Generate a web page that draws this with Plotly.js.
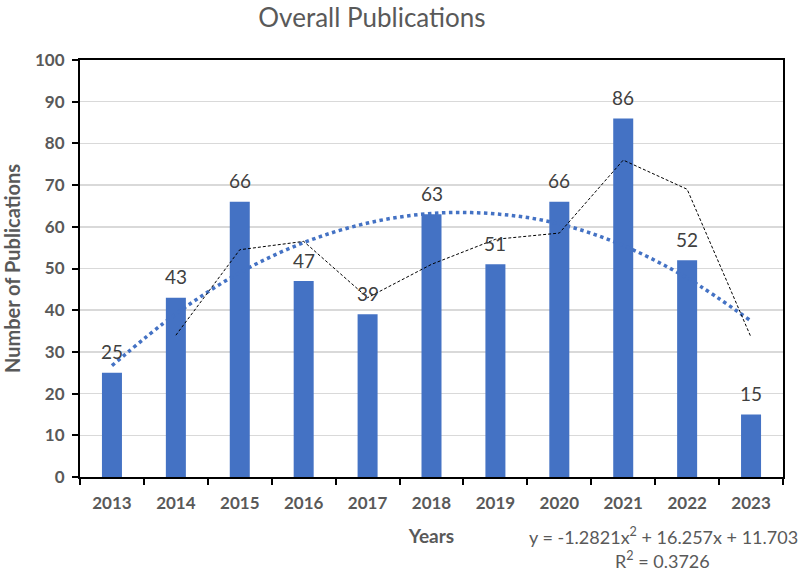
<!DOCTYPE html>
<html>
<head>
<meta charset="utf-8">
<script src="https://cdn.plot.ly/plotly-3.0.1.min.js"></script>
<style>html,body{margin:0;padding:0;background:#fff;}#chart{width:800px;height:571px;}</style>
</head>
<body>
<div id="chart"></div>
<script>
const years = ['2013','2014','2015','2016','2017','2018','2019','2020','2021','2022','2023'];
const publications = [25, 43, 66, 47, 39, 63, 51, 66, 86, 52, 15];
// 2-period moving average line, starts at 2014
const maYears = ['2014','2015','2016','2017','2018','2019','2020','2021','2022','2023'];
const maValues = [34, 54.5, 56.5, 43, 51, 57, 58.5, 76, 69, 33.5];
// polynomial trendline values
const trendValues = [26.7, 39.1, 49.0, 56.2, 60.9, 63.2, 63.1, 60.7, 55.5, 47.7, 37.4];
const equationText = 'y = -1.2821x<sup>2</sup> + 16.257x + 11.703';
const r2Text = 'R<sup>2</sup> = 0.3726';

const FONT = 'Lato, "Open Sans", sans-serif';
const traces = [
  {type:'bar', x: years, y: publications, marker:{color:'#4472C4'}, hoverinfo:'x+y', showlegend:false},
  {type:'scatter', mode:'lines', x: years, y: trendValues, line:{color:'#4472C4', width:3.5, dash:'dot', shape:'spline'}, showlegend:false},
  {type:'scatter', mode:'lines', x: maYears, y: maValues, line:{color:'#000000', width:1, dash:'3px,2px'}, showlegend:false}
];

const annotations = years.map((yr, i) => ({
  x: i, y: publications[i], xref:'x', yref:'y', text: String(publications[i]),
  showarrow:false, yshift: 21, font:{family: FONT, size:19, color:'#404040'}
}));
annotations.push({xref:'paper', yref:'paper', x: 1.024, y: -0.1415, xanchor:'right', yanchor:'middle', text: equationText, showarrow:false, font:{family:FONT, size:18, color:'#595959'}});
annotations.push({xref:'paper', yref:'paper', x: 0.828, y: -0.199, xanchor:'center', yanchor:'middle', text: r2Text, showarrow:false, font:{family:FONT, size:18, color:'#595959'}});

const layout = {
  width: 800, height: 571,
  margin: {l: 80, r: 17, t: 60, b: 94},
  paper_bgcolor:'#ffffff', plot_bgcolor:'#ffffff',
  bargap: 0.687,
  title: {text:'Overall Publications', x: 0.465, xanchor:'center', y: 0.968, yanchor:'middle', font:{family:FONT, size:26, color:'#595959'}},
  xaxis: {
    type:'category', range:[-0.5, 10.5], autorange:false,
    showline:true, linecolor:'#000', linewidth:2, mirror:true,
    ticks:'outside', tickson:'boundaries', ticklen:6, tickcolor:'#000', tickwidth:2,
    ticklabelstandoff: 10,
    tickfont:{family:FONT, size:17, color:'#595959', weight:'bold'},
    tickangle:0,
    showgrid:false, zeroline:false,
    title:{text:'Years', standoff: 17, font:{family:FONT, size:19, color:'#595959', weight:'bold'}}
  },
  yaxis: {
    range:[0,100], autorange:false, dtick:10, showline:true, linecolor:'#000', linewidth:2, mirror:true,
    ticks:'outside', ticklen:6, tickcolor:'#000', tickwidth:2,
    ticklabelstandoff: 4,
    tickfont:{family:FONT, size:17, color:'#595959', weight:'bold'},
    showgrid:true, gridcolor:'#d9d9d9', gridwidth:1.5, zeroline:false,
    title:{text:'Number of Publications', standoff: 12, font:{family:FONT, size:20, color:'#595959', weight:'bold'}}
  },
  annotations: annotations,
  showlegend:false
};

Plotly.newPlot('chart', traces, layout, {displayModeBar:false, staticPlot:true});
</script>
</body>
</html>
